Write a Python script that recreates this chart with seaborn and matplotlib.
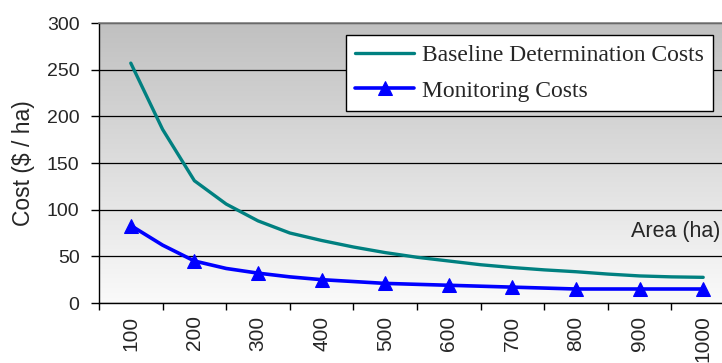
import numpy as np
import pandas as pd
import matplotlib
matplotlib.use("Agg")
import matplotlib.pyplot as plt
from matplotlib.colors import LinearSegmentedColormap
import seaborn as sns

# Area steps (ha) and costs ($/ha)
area = [100, 150, 200, 250, 300, 350, 400, 450, 500, 550,
        600, 650, 700, 750, 800, 850, 900, 950, 1000]
baseline_costs = [257, 186, 131, 106, 88, 75, 67, 60, 54, 49,
                  45, 41, 38, 35.5, 33.5, 31, 29, 28, 27.5]
monitoring_costs = [83, 62, 45, 37, 32, 28, 25, 23, 21, 20,
                    19, 18, 17, 16, 15, 15, 15, 15, 15]
tick_labels = ["100", "200", "300", "400", "500",
               "600", "700", "800", "900", "1000"]
y_ticks = [0, 50, 100, 150, 200, 250, 300]

sns.set_theme(style="ticks")
plt.rcParams["font.family"] = ["Liberation Sans", "DejaVu Sans"]

df = pd.DataFrame({"area": area,
                   "baseline": baseline_costs,
                   "monitoring": monitoring_costs})

W, H = 722, 363
fig = plt.figure(figsize=(W / 100, H / 100), dpi=100)
ax = fig.add_axes([99 / W, 60 / H, 636 / W, 280 / H])

# gray-to-white vertical gradient behind the plot
grad = LinearSegmentedColormap.from_list("bg", ["#c0c0c0", "#fafafa"])
ax.imshow(np.linspace(0, 1, 256).reshape(-1, 1), cmap=grad, aspect="auto",
          extent=[50, 1050, 0, 300], origin="upper", zorder=0)

sns.lineplot(data=df, x="area", y="baseline", ax=ax, color="#008080",
             linewidth=2.4, label="Baseline Determination Costs", zorder=3)
sns.lineplot(data=df, x="area", y="monitoring", ax=ax, color="#0000ff",
             linewidth=2.6, marker="^", markersize=10, markevery=2,
             markeredgecolor="#0000ff", label="Monitoring Costs", zorder=4)

ax.set_xlim(50, 1050)
ax.set_ylim(0, 300)

# horizontal gridlines
ax.set_axisbelow(True)
ax.set_yticks(y_ticks)
ax.yaxis.grid(True, color="black", linewidth=0.9)
ax.xaxis.grid(False)

# category-style x axis: marks between categories, labels at centres
ax.set_xticks(np.arange(50, 1051, 100))
ax.set_xticklabels([])
ax.set_xticks([int(t) for t in tick_labels], minor=True)
ax.set_xticklabels(tick_labels, minor=True, rotation=90, fontsize=15)
ax.tick_params(axis="x", which="major", length=5, width=1, color="black",
               direction="out")
ax.tick_params(axis="x", which="minor", length=0, pad=9)
ax.tick_params(axis="y", length=6, width=1, color="black", pad=8,
               labelsize=14)

for side in ["left", "bottom"]:
    ax.spines[side].set_color("black")
    ax.spines[side].set_linewidth(1)
ax.spines["top"].set_color("#808080")
ax.spines["top"].set_linewidth(1.2)
ax.spines["right"].set_visible(False)

ax.set_xlabel("")
ax.set_ylabel("Cost ($ / ha)", fontsize=16.5)
ax.yaxis.set_label_coords(-0.10, 0.5)

fig.text(720 / W, 1 - 232 / H, "Area (ha)", ha="right", va="center",
         fontsize=15.5)

leg = ax.legend(loc="upper left", bbox_to_anchor=(346 / W, 1 - 35 / H),
                bbox_transform=fig.transFigure, borderaxespad=0,
                prop={"family": "Liberation Serif", "size": 17},
                handlelength=2.5, handletextpad=0.3, labelspacing=0.6,
                borderpad=0.4, fancybox=False, framealpha=1,
                edgecolor="black", facecolor="white")
leg.get_frame().set_linewidth(1)

fig.savefig("out.png", dpi=100)
